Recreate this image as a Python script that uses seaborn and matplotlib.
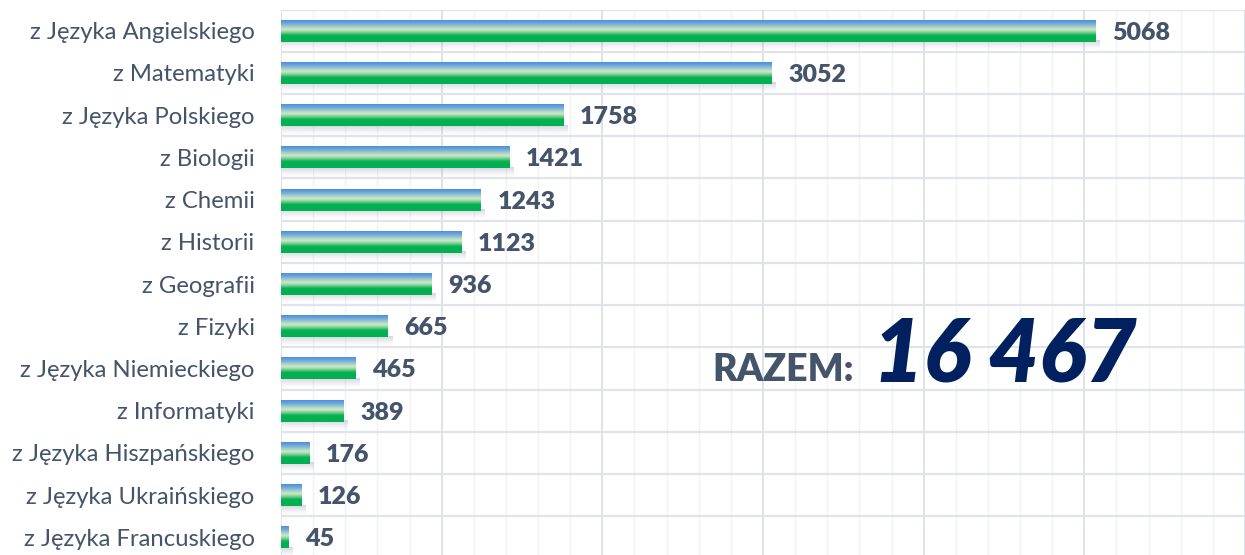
import matplotlib.pyplot as plt
import matplotlib.colors as mcolors
import seaborn as sns
import numpy as np
import pandas as pd

# data
subjects = ['z Języka Angielskiego', 'z Matematyki', 'z Języka Polskiego', 'z Biologii',
            'z Chemii', 'z Historii', 'z Geografii', 'z Fizyki', 'z Języka Niemieckiego',
            'z Informatyki', 'z Języka Hiszpańskiego', 'z Języka Ukraińskiego',
            'z Języka Francuskiego']
counts = [5068, 3052, 1758, 1421, 1243, 1123, 936, 665, 465, 389, 176, 126, 45]
total_label = '16 467'

df = pd.DataFrame({'subject': subjects, 'count': counts})

sns.set_theme(style="white")
plt.rcParams['font.family'] = ['Lato', 'DejaVu Sans']

label_color = '#44546a'

fig = plt.figure(figsize=(12.45, 5.55), dpi=100)
ax = fig.add_axes([281 / 1245, 1 - 558.5 / 555, 1 - 281 / 1245, 549 / 555])

sns.barplot(data=df, x='count', y='subject', orient='h', width=0.52,
            color='white', ax=ax, zorder=3)

ax.set_xlim(0, 5975)
ax.set_ylim(len(subjects) - 0.5, -0.5)

# vertical gradient for the bars: blue top, pale band, green bottom
grad_cmap = mcolors.LinearSegmentedColormap.from_list('bar_grad', [
    (0.0, '#4a8fe2'), (0.14, '#6fa6da'), (0.32, '#a9d4c8'), (0.43, '#cde9c6'),
    (0.55, '#86d39a'), (0.70, '#06b152'), (1.0, '#00b050')])
grad = grad_cmap(np.linspace(0, 1, 64))[:, None, :]

# soft shadow below each bar
shadow = np.zeros((32, 1, 4))
shadow[:, 0, :3] = mcolors.to_rgb('#9ea4bf')
shadow[:, 0, 3] = np.linspace(0.55, 0.0, 32) ** 1.3

for bar in ax.patches:
    x0, y0 = bar.get_x(), bar.get_y()
    w, h = bar.get_width(), bar.get_height()
    bar.set_facecolor('none')
    bar.set_edgecolor('none')
    ax.imshow(shadow, extent=(x0 + 5, x0 + w + 25, y0 + h + 0.2, y0 + h - 0.02),
              origin='upper', aspect='auto', zorder=2, interpolation='bilinear')
    ax.imshow(grad, extent=(x0, x0 + w, y0 + h, y0), origin='upper',
              aspect='auto', zorder=3, interpolation='bilinear')

for i, v in enumerate(counts):
    ax.annotate(f"{v}", xy=(v, i), xytext=(12, 0), textcoords='offset points',
                ha='left', va='center_baseline', fontsize=18, fontweight='heavy',
                color=label_color, zorder=4)

ax.set_xlim(0, 5975)
ax.set_ylim(len(subjects) - 0.5, -0.5)

# grid
ax.set_xticks(np.arange(0, 6001, 1000))
ax.set_xticks(np.arange(0, 6001, 200), minor=True)
ax.set_yticks(np.arange(-0.5, len(subjects), 1), minor=True)
ax.grid(which='major', axis='x', color='#dfe2e9', lw=1.4, zorder=0)
ax.grid(which='minor', axis='x', color='#f0f2f6', lw=1.0, zorder=0)
ax.grid(which='minor', axis='y', color='#e0e3ea', lw=1.6, zorder=0)
ax.set_axisbelow(True)
ax.tick_params(axis='x', which='both', length=0, labelbottom=False)
ax.tick_params(axis='y', which='both', length=0, pad=19, labelsize=17.2,
               labelcolor=label_color)
ax.set_xlabel('')
ax.set_ylabel('')
sns.despine(ax=ax, left=True, bottom=True)

# total
fig.text(712 / 1245, 1 - 381 / 555, 'RAZEM:', fontsize=27, fontweight='heavy',
         color=label_color, ha='left', va='baseline')
fig.text(873 / 1245, 1 - 382 / 555, total_label, fontsize=63, fontweight='heavy',
         fontstyle='italic', color='#002060', ha='left', va='baseline')

fig.savefig('out.png', dpi=100)
